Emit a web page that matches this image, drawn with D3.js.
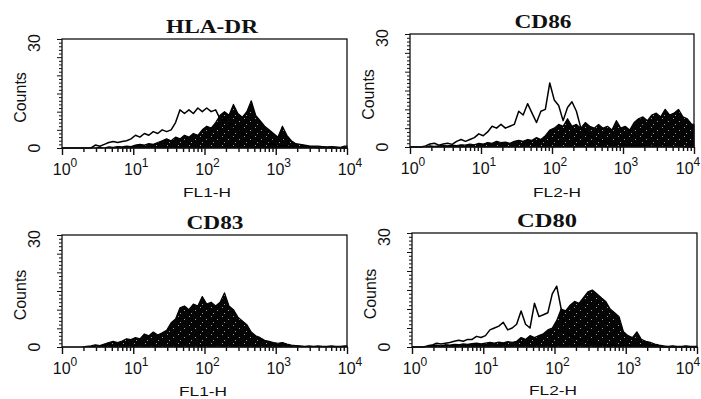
<!DOCTYPE html>
<html>
<head>
<meta charset="utf-8">
<script src="https://cdn.jsdelivr.net/npm/d3@7"></script>
<style>
  body { margin: 0; background: #fff; }
  text { font-family: "Liberation Sans", Arial, sans-serif; fill: #111; }
  text.title { font-family: "Liberation Serif", "Times New Roman", serif; font-weight: bold; }
</style>
</head>
<body>
<svg id="fig" width="701" height="399"></svg>
<script>
// chart values (64 channels, 16 per decade)
const titles = ["HLA-DR", "CD86", "CD83", "CD80"];
const axisLabels = ["FL1-H", "FL2-H", "FL1-H", "FL2-H"];
const decadeTicks = [1, 10, 100, 1000, 10000];
const countTicks = [0, 30];
const binsPerDecade = 16;

const hladrOpen = [
  0,0,0,0,0,0,0,0.8, 0.5,1,1.5,1.8,1.5,1.8,2,2.5,
  3.5,3,4,3.5,4.5,4,5,4.5, 5,7,10.5,9.5,10.5,9.5,11,10,
  11,10,10.5,8,8,7,6,5, 4,3.5,3,2.5,2,1.5,1.2,1,
  0.8,0.6,0.5,0.4,0.3,0.3,0.2,0.2, 0.2,0.1,0.2,0.1,0,0.1,0,0
];
const hladrFilled = [
  0,0,0,0,0,0,0,0, 0.2,0,0.3,0.2,0.4,0.3,0.5,0.4,
  0.8,1,0.8,1.2,1,1.5,2,2.5, 2,3,2.5,3.5,3,4,3.5,5,
  6,5.5,7,9,10,9,12,9.5, 8.5,10,13,9,7.5,6,5,4,
  3,6,3.5,2,1.2,1,0.8,0.6, 0.5,0.5,0.4,0.3,0.4,0.3,0.2,0.5
];
const cd86Open = [
  0,0,0,0.3,0.8,1,0.5,0.8, 1,0.7,1.5,2,1.5,2,2.5,3.5,
  3,4,5.5,5,6,5,5.5,6, 9.5,8.5,11.5,9,6.5,9.5,10,17,
  12.5,11,7,10.5,12,9.5,5,4, 3,2.5,2,1.5,1.2,1,0.8,0.6,
  0.5,0.4,0.4,0.3,0.3,0.3,0.2,0.2, 0.2,0.2,0.1,0.1,0.1,0.1,0,0
];
const cd86Filled = [
  0,0,0,0,0.3,0.2,0.3,0.4, 0.3,0.5,0.4,0.6,0.5,0.8,0.6,1,
  0.8,1.2,1,1.5,1.2,1.3,1,1.5, 1.8,1.5,2,1.8,2.5,2,3,4.5,
  5,6,5.5,7.5,5.5,6,5,6.5, 5.5,5,6,5,5.5,4.5,7,5,
  5.5,4.5,6.5,7.5,8,7,8.5,9, 8,10,8.5,9,10,8,7.5,6
];
const cd83Filled = [
  0,0,0,0,0,0.2,0.3,0.6, 0.4,0.8,1.2,1.5,1.2,1.6,2.2,2,
  2.5,2.2,3.5,3,4,3.2,3.8,4.5, 6.5,7.5,10.5,11,10,11.5,11,13.5,
  11.5,12,11,12,14.5,11,10,8, 7,6,4,3,2.5,1.8,1.5,1.2,
  1,1.2,0.8,0.5,0.4,0.3,0.2,0.3, 0.2,0.3,0.2,0.2,0.3,0.2,0.2,0.3
];
const cd80Open = [
  0,0,0,0.3,0.5,1,0.8,1, 1.2,1.5,1.8,1.5,2,2,2.8,2.5,
  3,4.5,5,5.5,6.5,4.5,5,6, 9.5,6,5,11.5,8,8.5,9,14,
  16,10,4,3,2.5,2,1.8,1.5, 1.2,1,0.8,0.6,0.5,0.4,0.3,0.3,
  0.3,0.2,0.2,0.2,0.1,0.1,0.1,0.1, 0,0,0,0,0,0,0,0
];
const cd80Filled = [
  0,0,0,0.2,0.4,0.5,0.3,0.6, 0.5,0.7,0.6,0.8,0.7,0.9,1,0.8,
  1,1.2,1,1.3,1.1,1.4,1.2,1.5, 2.5,2,3,2.5,3,3.5,4.5,5,
  7,10,9.5,11,12,11.5,13,14.5, 15,14,13,12,10,9,8,4,
  3,2.5,4,2,1.5,1.2,0.8,0.5, 0.3,0.2,0.3,0.2,0.2,0.3,0.2,0.2
];

// layout of the four panels
const panels = [
  { title: titles[0], label: axisLabels[0], filled: hladrFilled, open: hladrOpen,
    left: 62, right: 347, top: 39, bottom: 148, titleX: 212, titleY: 33, titleW: 92, labX: 207, labY: 197 },
  { title: titles[1], label: axisLabels[1], filled: cd86Filled, open: cd86Open,
    left: 410, right: 694, top: 34, bottom: 147, titleX: 543, titleY: 28, titleW: 57, labX: 557, labY: 197 },
  { title: titles[2], label: axisLabels[2], filled: cd83Filled, open: null,
    left: 62, right: 347, top: 235, bottom: 347, titleX: 215, titleY: 229, titleW: 57, labX: 203, labY: 396 },
  { title: titles[3], label: axisLabels[3], filled: cd80Filled, open: cd80Open,
    left: 412, right: 697, top: 233, bottom: 347, titleX: 547, titleY: 227, titleW: 60, labX: 553, labY: 395 }
];

const svg = d3.select("#fig");

// mostly black fill with a few light specks, like the scanned print
const pat = svg.append("defs").append("pattern")
  .attr("id", "speckle")
  .attr("width", 11).attr("height", 9)
  .attr("patternUnits", "userSpaceOnUse");
pat.append("rect").attr("width", 11).attr("height", 9).attr("fill", "#050505");
[[2, 1], [8, 4], [4, 7]].forEach(([px, py]) => {
  pat.append("rect").attr("x", px).attr("y", py).attr("width", 1).attr("height", 1).attr("fill", "#9a9a9a");
});

// bin centres on the log axis
function points(counts) {
  let pts = counts.map((c, i) => ({ v: Math.pow(10, (i + 0.5) / binsPerDecade), c: c }));
  pts.unshift({ v: decadeTicks[0], c: 0 });
  pts.push({ v: decadeTicks[decadeTicks.length - 1], c: counts[counts.length - 1] });
  return pts;
}

panels.forEach(p => {
  let x = d3.scaleLog().domain([decadeTicks[0], decadeTicks[decadeTicks.length - 1]]).range([p.left, p.right]);
  let y = d3.scaleLinear().domain([countTicks[0], countTicks[1]]).range([p.bottom, p.top]);
  let g = svg.append("g");

  // filled histogram
  let area = d3.area()
    .x(d => x(d.v))
    .y0(y(0))
    .y1(d => y(d.c));
  g.append("path")
    .datum(points(p.filled))
    .attr("d", area)
    .attr("fill", "url(#speckle)")
    .attr("stroke", "#000")
    .attr("stroke-width", 1.2)
    .attr("stroke-linejoin", "round");

  // open (control) histogram
  if (p.open) {
    let line = d3.line()
      .x(d => x(d.v))
      .y(d => y(d.c));
    g.append("path")
      .datum(points(p.open))
      .attr("d", line)
      .attr("fill", "none")
      .attr("stroke", "#000")
      .attr("stroke-width", 1.5)
      .attr("stroke-linejoin", "round");
  }

  // frame
  g.append("rect")
    .attr("x", p.left).attr("y", p.top)
    .attr("width", p.right - p.left).attr("height", p.bottom - p.top)
    .attr("fill", "none").attr("stroke", "#111").attr("stroke-width", 1.3);

  // x axis: decades + minor log ticks
  let xAxis = d3.axisBottom(x).tickValues(x.ticks()).tickSize(4).tickFormat("");
  let ax = g.append("g").attr("transform", `translate(0,${p.bottom})`).call(xAxis);
  ax.select(".domain").remove();
  ax.selectAll(".tick line").attr("stroke", "#111").attr("stroke-width", 1.4)
    .attr("y2", d => decadeTicks.includes(d) ? 7 : 4);

  decadeTicks.forEach(v => {
    let lx = Math.min(x(v) + 3, 688);
    let t = g.append("text")
      .attr("x", lx)
      .attr("y", p.bottom + 27)
      .attr("text-anchor", "middle")
      .attr("font-size", 16);
    t.append("tspan").text("10");
    t.append("tspan").attr("dy", -8).attr("font-size", 12).text(Math.round(Math.log10(v)));
  });

  // y axis: one tick per count
  let yAxis = d3.axisLeft(y).tickValues(d3.range(countTicks[0], countTicks[1] + 1)).tickSize(3).tickFormat("");
  let ay = g.append("g").attr("transform", `translate(${p.left},0)`).call(yAxis);
  ay.select(".domain").remove();
  ay.selectAll(".tick line").attr("stroke", "#111").attr("stroke-width", 1)
    .attr("x2", d => d % 5 === 0 ? -5 : -3);

  countTicks.forEach(v => {
    g.append("text")
      .attr("transform", `translate(${p.left - 22},${v === 0 ? y(v) : y(v) + 4}) rotate(-90)`)
      .attr("text-anchor", "middle")
      .attr("font-size", 16)
      .text(v);
  });

  g.append("text")
    .attr("transform", `translate(${p.left - 36},${(p.top + p.bottom) / 2 + 4}) rotate(-90)`)
    .attr("text-anchor", "middle")
    .attr("font-size", 16)
    .text("Counts");

  g.append("text")
    .attr("x", p.labX).attr("y", p.labY)
    .attr("text-anchor", "middle")
    .attr("font-size", 13)
    .attr("textLength", 48).attr("lengthAdjust", "spacingAndGlyphs")
    .text(p.label);

  g.append("text")
    .attr("class", "title")
    .attr("x", p.titleX).attr("y", p.titleY)
    .attr("text-anchor", "middle")
    .attr("font-size", 18)
    .attr("textLength", p.titleW).attr("lengthAdjust", "spacingAndGlyphs")
    .text(p.title);
});
</script>
</body>
</html>
